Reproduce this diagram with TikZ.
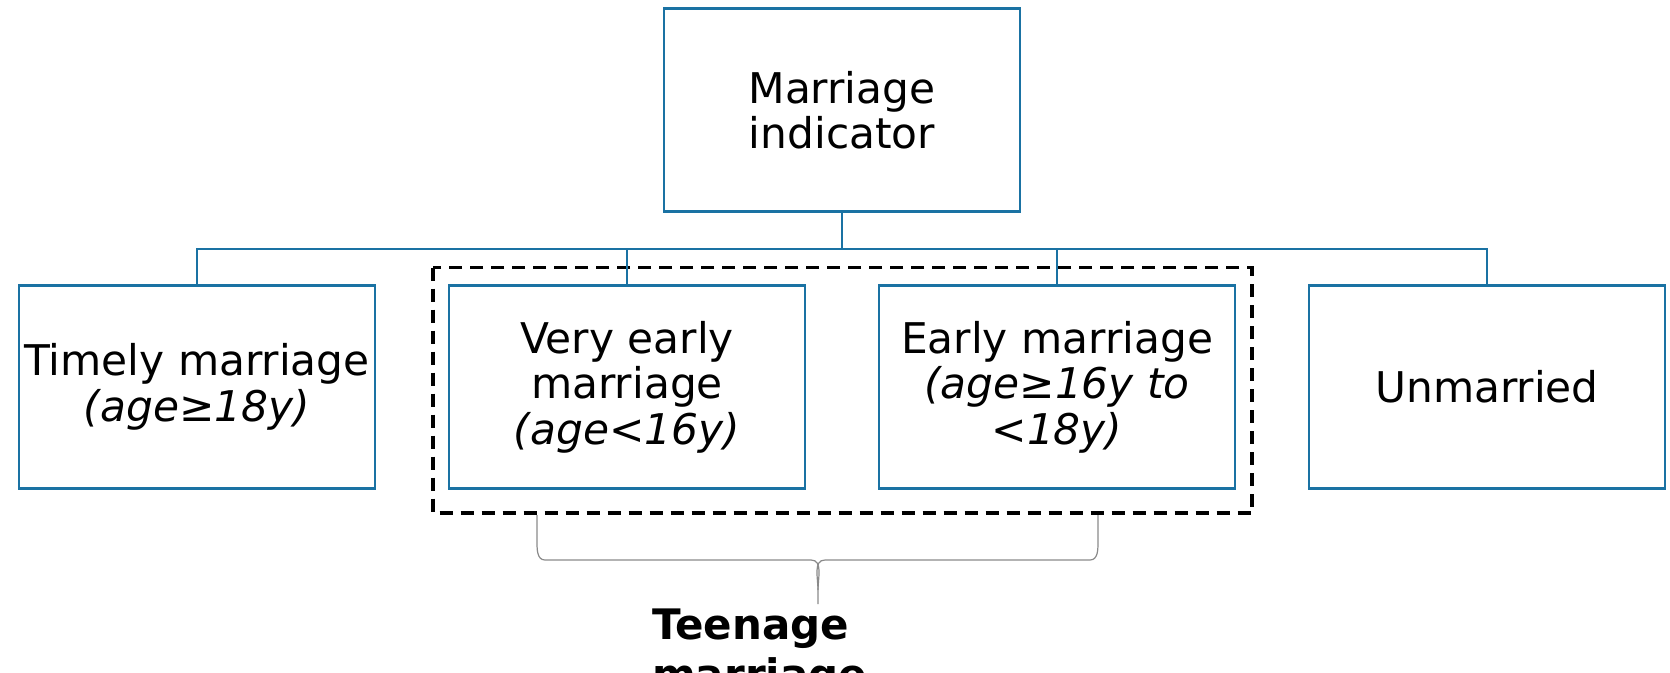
\documentclass[tikz,border=0pt]{standalone}
\usepackage{fontspec}
\setmainfont{DejaVu Sans}
\definecolor{boxblue}{HTML}{1A72A3}
\definecolor{bracegray}{HTML}{8A8A8A}
\begin{document}
\begin{tikzpicture}[x=1pt,y=-1pt,
  box/.style={draw=boxblue, line width=2.4pt, minimum width=356pt, minimum height=203pt,
    inner sep=0pt, align=center, font=\fontsize{42.3}{45.5}\selectfont},
  conn/.style={draw=boxblue, line width=2.4pt},
  group/.style={draw=black, line width=3.5pt, dash pattern=on 13pt off 8pt},
  bracepath/.style={draw=bracegray, line width=1.2pt}]
\clip (0,0) rectangle (1670,672);
\useasboundingbox (0,0) rectangle (1670,672);
\node[box] (top) at (842,110) {Marriage\\indicator};
\node[box] (timely) at (197,387) {Timely marriage\\\textit{(age≥18y)}};
\node[box] (very) at (627,387) {Very early\\marriage\\\textit{(age<16y)}};
\node[box] (early) at (1057,387) {Early marriage\\\textit{(age≥16y to}\\\textit{<18y)}};
\node[box] (unm) at (1487,387) {Unmarried};
\draw[group] (433,267.5) rectangle (1252,513);
\coordinate (bus) at (842,249);
\draw[conn] (top.south) -- (bus);
\draw[conn] (timely.north) |- (bus) -| (unm.north);
\draw[conn] (very.north) -- (very.north |- bus);
\draw[conn] (early.north) -- (early.north |- bus);
\draw[bracepath] (537,515) -- (537,540) to[out=-90,in=180] (545,560) -- (811,560) to[out=0,in=90] (818,590) -- (818,604);
\draw[bracepath] (1098,515) -- (1098,540) to[out=-90,in=0] (1090,560) -- (825,560) to[out=180,in=90] (818,590);
\node[anchor=north west, inner sep=0pt, align=left, font=\fontsize{42}{50}\selectfont\bfseries] (teen) at (652,609) {Teenage\\marriage};
\end{tikzpicture}
\end{document}
